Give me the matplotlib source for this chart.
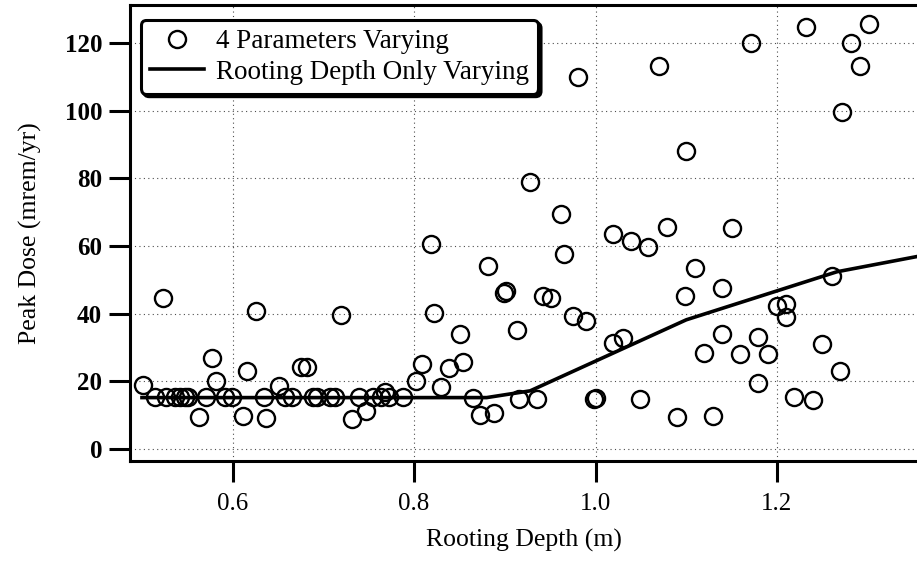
import matplotlib
matplotlib.use('Agg')
import matplotlib.pyplot as plt

plt.rcParams['font.family'] = ['Liberation Serif', 'DejaVu Serif']

# pontos com os 4 parametros a variar
depth_4p = [0.514, 0.527, 0.536, 0.542, 0.547, 0.551, 0.571, 0.592, 0.599, 0.634,
            0.658, 0.665, 0.689, 0.693, 0.707, 0.713, 0.739, 0.755, 0.763, 0.772,
            0.788, 0.865, 0.916, 0.935, 0.998, 1.000, 1.049, 1.219, 1.240,
            0.501, 0.523, 0.563, 0.577, 0.582, 0.611, 0.616, 0.626, 0.637, 0.651,
            0.675, 0.682, 0.719, 0.731, 0.747, 0.768, 0.802, 0.809, 0.819, 0.822,
            0.830, 0.838, 0.851, 0.854, 0.873, 0.881, 0.888, 0.899, 0.901, 0.913,
            0.928, 0.942, 0.951, 0.962, 0.965, 0.975, 0.981, 0.990, 1.019, 1.019,
            1.030, 1.039, 1.058, 1.070, 1.079, 1.090, 1.099, 1.100, 1.110, 1.120,
            1.129, 1.139, 1.139, 1.150, 1.159, 1.171, 1.179, 1.179, 1.190, 1.200,
            1.210, 1.210, 1.232, 1.250, 1.261, 1.270, 1.272, 1.282, 1.292, 1.302]
dose_4p = [15.3, 15.3, 15.3, 15.3, 15.3, 15.3, 15.3, 15.3, 15.3, 15.3,
           15.3, 15.3, 15.3, 15.3, 15.3, 15.3, 15.3, 15.3, 15.3, 15.3,
           15.3, 15.0, 14.8, 14.8, 14.8, 15.2, 14.8, 15.3, 14.5,
           19.0, 44.8, 9.4, 26.8, 20.2, 9.9, 23.2, 40.8, 9.1, 18.7,
           24.3, 24.3, 39.5, 8.9, 11.1, 16.9, 20.1, 25.0, 60.5, 40.3,
           18.4, 24.1, 34.0, 25.6, 10.1, 54.2, 10.5, 46.0, 46.8, 35.2,
           79.1, 45.3, 44.6, 69.5, 57.7, 39.3, 110.1, 37.9, 63.5, 31.3,
           32.7, 61.5, 59.6, 113.3, 65.6, 9.6, 45.3, 88.1, 53.6, 28.3,
           9.9, 47.5, 34.0, 65.3, 28.0, 120.0, 33.2, 19.4, 28.0, 42.3,
           42.9, 39.1, 124.7, 31.0, 51.2, 23.2, 99.6, 120.0, 113.3, 125.7]

# curva so com a profundidade das raizes a variar
depth_line = [0.50, 0.88, 0.928, 1.10, 1.266, 1.36]
dose_line = [15.2, 15.2, 17.2, 38.2, 52.4, 57.2]

x_ticks = [0.6, 0.8, 1.0, 1.2]
y_ticks = [0, 20, 40, 60, 80, 100, 120]

fig = plt.figure(figsize=(9.17, 5.61), dpi=100)
ax = fig.add_axes([130/917, 100/561, 787/917, 456/561])

ax.plot(depth_4p, dose_4p, 'o', markersize=12.3, markerfacecolor='none',
        markeredgecolor='black', markeredgewidth=1.7, label='4 Parameters Varying',
        zorder=3)
ax.plot(depth_line, dose_line, '-', color='black', linewidth=2.6,
        label='Rooting Depth Only Varying', zorder=4)

ax.set_xlim(0.4868, 1.3544)
ax.set_ylim(-3.55, 131.3)
ax.set_xticks(x_ticks)
ax.set_xticklabels(['%.1f' % v for v in x_ticks])
ax.set_yticks(y_ticks)

ax.grid(True, linestyle=(0, (1, 3)), color='0.3', linewidth=0.8)
ax.set_axisbelow(True)

for s in ['left', 'bottom', 'top']:
    ax.spines[s].set_linewidth(2.2)
ax.spines['right'].set_visible(False)

ax.tick_params(axis='both', direction='out', length=15, width=2.2, labelsize=18)
ax.tick_params(axis='y', pad=5)
ax.tick_params(axis='x', pad=8)
for lbl in ax.get_yticklabels():
    lbl.set_fontweight('bold')

ax.set_xlabel('Rooting Depth (m)', fontsize=18.5, labelpad=10)
ax.set_ylabel('Peak Dose (mrem/yr)', fontsize=18.5, labelpad=16)

leg = ax.legend(loc='upper left', bbox_to_anchor=(0.014, 0.967), borderaxespad=0,
                fontsize=19.5, handlelength=2, handletextpad=0.45, labelspacing=0.22,
                borderpad=0.33, fancybox=True, framealpha=1,
                shadow={'facecolor': 'black', 'edgecolor': 'black', 'alpha': 1})
leg.get_frame().set_edgecolor('black')
leg.get_frame().set_linewidth(2.2)

plt.savefig('out.png', dpi=100)
